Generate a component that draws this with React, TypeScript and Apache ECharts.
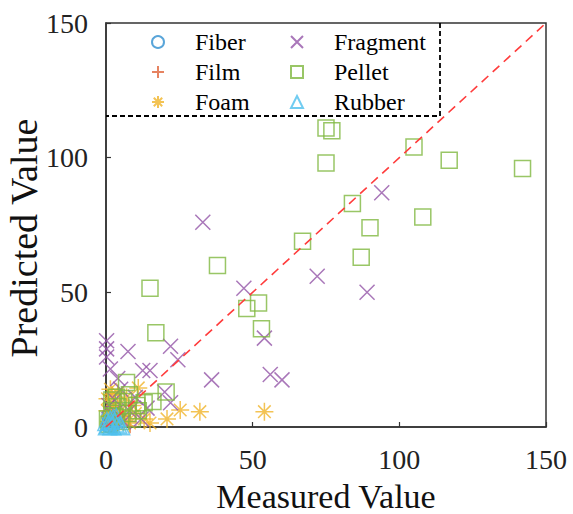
import React, { useEffect, useRef } from "react";
import * as echarts from "echarts";

const FONT = "'Liberation Serif', 'Times New Roman', serif";

const axisTicks = [0, 50, 100, 150];

const fiber: number[][] = [
  [0.5, 0.5], [1, 1.5], [2, 1], [1.5, 3], [3, 2], [0.8, 4], [2.5, 0.3], [4, 3], [1.2, 0.2],
];
const film: number[][] = [
  [1, 1], [2, 3], [3, 1], [4, 5], [6, 4], [1.5, 6], [8, 2], [5, 8], [8.2, 0.3], [2.5, 9],
];
const foam: number[][] = [
  [25.3, 6.3], [32, 5.7], [54, 5.7], [20.8, 3.0], [11, 14.5], [1, 2], [2, 5], [3, 8],
  [4, 1], [6, 3], [8, 1.5], [0.5, 10.5], [0.5, 6], [5, 6], [9, 8], [13, 3], [15, 1.5],
  [7, 11], [2, 12], [10, 5], [1.5, 14], [4, 12.5],
];
const fragment: number[][] = [
  [94, 87], [33, 76], [72, 56], [89, 50], [47, 51.5], [54, 33], [36, 17.5], [56, 19.5],
  [60, 17.5], [0.2, 32], [0.2, 29], [0.2, 26], [7.5, 28], [22, 30], [24.5, 25], [1.5, 21.5],
  [12.5, 21], [15, 21], [20, 13], [22, 9], [12, 3], [5, 14], [3, 10], [8, 6], [10, 11],
  [2, 5], [6, 2], [14, 7], [4, 18], [1, 8],
];
const pellet: number[][] = [
  [75, 111], [77, 110], [75, 98], [105, 104], [117, 99], [142, 96], [84, 83], [108, 78],
  [90, 74], [67, 69], [87, 63], [38, 60], [15, 51.5], [52, 46], [48, 44], [53, 36.5],
  [17, 35], [7, 16.5], [20.5, 13], [16, 9.5], [13, 9], [2, 10], [4, 7.5], [7.5, 5],
  [10.5, 8], [3, 4], [5, 2], [1, 1], [2, 6], [6, 9.5], [9, 3], [11, 6], [0.5, 3],
  [3.5, 11], [8, 12],
];
const rubber: number[][] = [
  [0.5, 0.5], [1, 1], [2, 0.5], [3, 1.5], [1.5, 2.5], [4, 1], [0.3, 2], [2.5, 3],
  [5, 0.5], [3.5, 3.5],
];
const diagonal: number[][] = [
  [0, 0], [150, 150],
];

const legendLeft = ["Fiber", "Film", "Foam"];
const legendRight = ["Fragment", "Pellet", "Rubber"];

const PLUS = "path://M5 0 L5 10 M0 5 L10 5";
const CROSS = "path://M0 0 L10 10 M10 0 L0 10";
const STAR = "path://M5 0 L5 10 M0 5 L10 5 M1.5 1.5 L8.5 8.5 M8.5 1.5 L1.5 8.5";

function scatter(name: string, data: number[][], symbol: string, size: number, color: string) {
  return {
    type: "scatter",
    name,
    data,
    symbol,
    symbolSize: size,
    clip: false,
    itemStyle: { color: "rgba(0,0,0,0)", borderColor: color, borderWidth: 1.5 },
    emphasis: { disabled: true },
  };
}

export default function App() {
  const ref = useRef<HTMLDivElement>(null);
  useEffect(() => {
    if (!ref.current) return;
    const chart = echarts.init(ref.current, undefined, { renderer: "svg" });
    const axisCommon = {
      type: "value",
      min: 0,
      max: 150,
      interval: 50,
      nameLocation: "middle",
      nameMoveOverlap: false,
      axisLine: { show: true, lineStyle: { color: "#333", width: 1.5 } },
      axisTick: { show: true, inside: true, length: 5, lineStyle: { color: "#333", width: 1.2 } },
      splitLine: { show: false },
    };
    const legendCommon = {
      orient: "vertical",
      top: 25,
      itemWidth: 12,
      itemHeight: 12,
      itemGap: 6,
      textStyle: { fontFamily: FONT, fontSize: 24, color: "#000", lineHeight: 24, padding: [0, 0, 0, 26] },
    };
    chart.setOption({
      animation: false,
      backgroundColor: "#fff",
      grid: {
        left: 106,
        right: 27,
        top: 23,
        bottom: 87,
        outerBoundsMode: "none",
        containLabel: false,
        show: true,
        borderColor: "#333",
        borderWidth: 1.5,
      },
      xAxis: {
        ...axisCommon,
        name: "Measured Value",
        nameGap: 52,
        nameTextStyle: { fontFamily: FONT, fontSize: 34, color: "#111" },
        axisLabel: {
          fontFamily: FONT,
          fontSize: 28,
          color: "#222",
          margin: 18,
          formatter: (v: number) => (axisTicks.includes(v) ? String(v) : ""),
        },
      },
      yAxis: {
        ...axisCommon,
        name: "Predicted Value",
        nameGap: 63,
        nameTextStyle: { fontFamily: FONT, fontSize: 38, color: "#111", padding: [0, 26, 0, 0] },
        axisLabel: {
          fontFamily: FONT,
          fontSize: 28,
          color: "#222",
          margin: 18,
          formatter: (v: number) => (axisTicks.includes(v) ? String(v) : ""),
        },
      },
      legend: [
        { ...legendCommon, left: 146, data: legendLeft },
        { ...legendCommon, left: 285, data: legendRight },
      ],
      series: [
        scatter("Fiber", fiber, "circle", 13, "#2f8fd0"),
        scatter("Film", film, PLUS, 14, "#e0643a"),
        scatter("Foam", foam, STAR, 18, "#f0b429"),
        scatter("Fragment", fragment, CROSS, 15, "#9455a8"),
        scatter("Pellet", pellet, "rect", 16, "#80b840"),
        scatter("Rubber", rubber, "triangle", 18, "#4dbfee"),
        {
          type: "line",
          name: "diag",
          data: diagonal,
          symbol: "none",
          z: 5,
          lineStyle: { color: "#ff3c3c", width: 1.6, type: [9, 6] },
          emphasis: { disabled: true },
        },
      ],
      graphic: [
        {
          type: "polyline",
          z: 10,
          silent: true,
          shape: { points: [[440, 23], [440, 116], [106, 116]] },
          style: { stroke: "#000", lineWidth: 1.8, lineDash: [5, 3], fill: null },
        },
      ],
    });
    return () => chart.dispose();
  }, []);
  return <div ref={ref} style={{ width: 573, height: 514, position: "absolute", left: 0, top: 0 }} />;
}
